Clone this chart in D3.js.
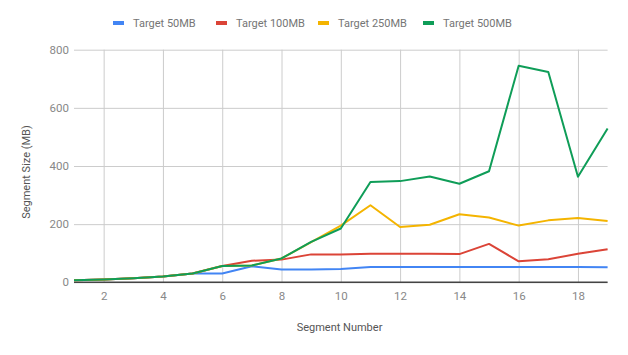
<!DOCTYPE html>
<html><head><meta charset="utf-8">
<script src="https://cdn.jsdelivr.net/npm/d3@7"></script>
<style>body{margin:0;background:#fff;}svg{display:block;font-family:Roboto,Arial,sans-serif;}</style>
</head><body><svg id="c" width="628" height="355"></svg>
<script>
const segments = [1,2,3,4,5,6,7,8,9,10,11,12,13,14,15,16,17,18,19];
const target50  = [7,10,14,20,30,30,55,44,44,46,53,53,53,53,53,53,53,53,52];
const target100 = [7,10,14,20,30,56,74,78,96,96,98,98,98,97,132,72,79,98,114];
const target250 = [7,10,14,20,30,56,58,82,138,195,265,190,198,234,223,195,213,221,211];
const target500 = [7,10,14,20,30,56,58,82,139,185,345,348,364,339,382,745,723,363,529];
const seriesNames = ["Target 50MB","Target 100MB","Target 250MB","Target 500MB"];
const seriesColors = ["#4285F4","#DB4437","#F4B400","#0F9D58"];
const xTicks = [2,4,6,8,10,12,14,16,18];
const yTicks = [0,200,400,600,800];

const svg = d3.select("#c");
const x = d3.scaleLinear().domain([1,19]).range([74,607.6]);
const y = d3.scaleLinear().domain([0,800]).range([282.3,49.7]);

// horizontal gridlines
const gy = d3.axisLeft(y).tickValues(yTicks).tickSize(-(607.6-74)).tickFormat(d=>d).tickPadding(6);
const gY = svg.append("g").attr("transform","translate(74,0)").call(gy);
gY.select(".domain").remove();
gY.selectAll(".tick line").attr("stroke","#ccc").attr("stroke-width",1);
gY.selectAll(".tick text").attr("fill","#888").attr("font-size","11.5px").attr("x",-5).attr("font-family","Roboto,Arial,sans-serif");

// vertical gridlines
const gx = d3.axisBottom(x).tickValues(xTicks).tickSize(-(282.3-49.7)).tickPadding(10);
const gX = svg.append("g").attr("transform","translate(0,282.3)").call(gx);
gX.select(".domain").remove();
gX.selectAll(".tick line").attr("stroke","#ccc").attr("stroke-width",1);
gX.selectAll(".tick text").attr("fill","#888").attr("font-size","11.5px").attr("font-family","Roboto,Arial,sans-serif");

// baseline
svg.append("line").attr("x1",x(1)).attr("x2",x(19)).attr("y1",y(0)).attr("y2",y(0))
  .attr("stroke","#444").attr("stroke-width",1.5);

const allSeries = [target50,target100,target250,target500];
const line = d3.line().x((d,i)=>x(segments[i])).y(d=>y(d));
allSeries.forEach((s,k)=>{
  svg.append("path").datum(s).attr("d",line).attr("fill","none")
    .attr("stroke",seriesColors[k]).attr("stroke-width",2).attr("stroke-linejoin","round");
});

// axis titles
svg.append("text").attr("x",339.5).attr("y",330.5).attr("text-anchor","middle")
  .attr("font-size","11px").attr("fill","#555").text("Segment Number");
svg.append("text").attr("transform","translate(30,172) rotate(-90)").attr("text-anchor","middle")
  .attr("font-size","11px").attr("fill","#555").text("Segment Size (MB)");

// legend
const legendX = [113,216,318,423];
seriesNames.forEach((n,k)=>{
  const g = svg.append("g").attr("transform",`translate(${legendX[k]},0)`);
  g.append("rect").attr("x",0).attr("y",21).attr("width",11).attr("height",4).attr("fill",seriesColors[k]);
  g.append("text").attr("x",20).attr("y",27).attr("font-size","11px").attr("fill","#757575").text(n);
});
</script></body></html>
